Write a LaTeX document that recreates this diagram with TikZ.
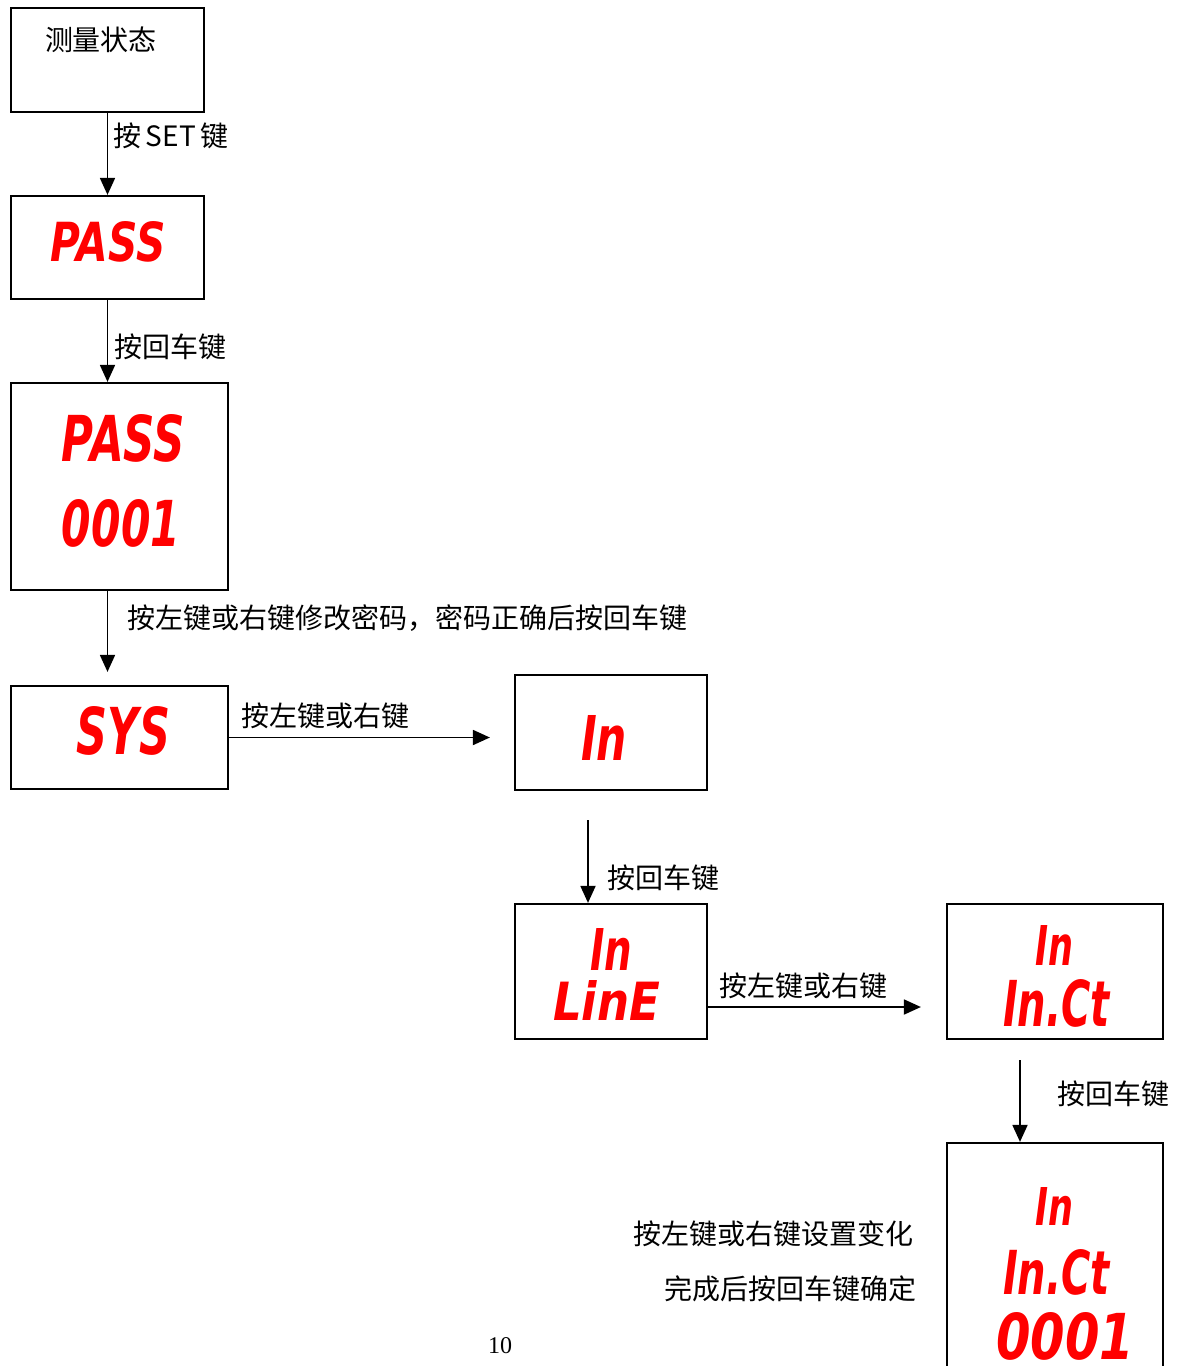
\documentclass[tikz,border=0pt]{standalone}
\usepackage{fontspec}
\usepackage{graphicx}
\newfontfamily\cjk{Noto Sans CJK SC}
\newfontfamily\segf{DejaVu Sans}
\newfontfamily\pgnum{Liberation Serif}
\usetikzlibrary{arrows.meta,calc}
\newcommand{\seg}[3]{\resizebox{#1pt}{#2pt}{\segf\bfseries\itshape #3}}
\begin{document}
\begin{tikzpicture}[x=1pt,y=-1pt,
  box/.style={draw,line width=2.2pt,inner sep=0pt,fill=white},
  lbl/.style={font=\cjk\fontsize{28pt}{30pt}\selectfont,inner sep=0pt},
  segtxt/.style={text=red,inner sep=0pt},
  flow/.style={draw,line width=1.8pt,-{Triangle[width=15pt,length=17pt]}}]
\useasboundingbox (0,0) rectangle (1183,1366);
\clip (0,0) rectangle (1183,1366);
% boxes
\node[box,minimum width=193pt,minimum height=104pt] (b1) at (107.5,60) {};
\node[box,minimum width=193pt,minimum height=103pt] (b2) at (107.5,247.5) {};
\node[box,minimum width=217pt,minimum height=207pt] (b3) at (119.5,486.5) {};
\node[box,minimum width=217pt,minimum height=103pt] (b4) at (119.5,737.5) {};
\node[box,minimum width=192pt,minimum height=115pt] (b5) at (611,732.5) {};
\node[box,minimum width=192pt,minimum height=135pt] (b6) at (611,971.5) {};
\node[box,minimum width=216pt,minimum height=135pt] (b7) at (1055,971.5) {};
\node[box,minimum width=216pt,minimum height=277pt] (b8) at (1055,1281.5) {};
% box texts
\node[lbl] (t1) at (101,40) {测量状态};
\node[segtxt] (s2) at (108,242) {\seg{115}{40}{PASS}};
\node[segtxt] (s3a) at (123.5,438.5) {\seg{123}{47}{PASS}};
\node[segtxt] (s3b) at (121,523.5) {\seg{118}{47}{0001}};
\node[segtxt] (s4) at (123.5,731) {\seg{93}{48}{SYS}};
\node[segtxt] (s5) at (604,737.5) {\seg{46}{45}{In}};
\node[segtxt] (s6a) at (611,949) {\seg{42}{42}{In}};
\node[segtxt] (s6b) at (606.5,1000) {\seg{107}{40}{LinE}};
\node[segtxt] (s7a) at (1054,945) {\seg{38}{40}{In}};
\node[segtxt] (s7b) at (1056.5,1003.5) {\seg{107}{47}{In.Ct}};
\node[segtxt] (s8a) at (1054,1206) {\seg{38}{38}{In}};
\node[segtxt] (s8b) at (1056.5,1272.5) {\seg{107}{45}{In.Ct}};
\node[segtxt] (s8c) at (1065,1336) {\seg{138}{47}{0001}};
% free arrow starts
\coordinate (c5) at (588,820);
\coordinate (c7) at (1020,1060);
% connectors
\draw[flow] (b1.south) -- (b2.north);
\draw[flow] (b2.south) -- (b2.south |- b3.north);
\draw[flow,shorten >=13pt] (b3.south -| b2.south) -- (b4.north -| b2.south);
\draw[flow,shorten >=24pt] (b4.east) -- (b4.east -| b5.west);
\draw[flow] (c5) -- (c5 |- b6.north);
\draw[flow,shorten >=25pt] ([yshift=-35.5pt]b6.east) -- ([yshift=-35.5pt]b6.east -| b7.west);
\draw[flow] (c7) -- (c7 |- b8.north);
% labels
\node[lbl,anchor=west] (l1) at (113,136) {按\,SET\,键};
\node[lbl,anchor=west] (l2) at (114,347) {按回车键};
\node[lbl,anchor=west] (l3) at (127,618) {按左键或右键修改密码，密码正确后按回车键};
\node[lbl,anchor=west] (l4) at (241,716) {按左键或右键};
\node[lbl,anchor=west] (l5) at (607,878) {按回车键};
\node[lbl,anchor=west] (l6) at (719,986) {按左键或右键};
\node[lbl,anchor=west] (l7) at (1057,1094) {按回车键};
\node[lbl,anchor=east] (l8) at (914,1234) {按左键或右键设置变化};
\node[lbl,anchor=east] (l9) at (917,1289) {完成后按回车键确定};
\node[inner sep=0pt,font=\pgnum\fontsize{24pt}{26pt}\selectfont] (pg) at (500,1346) {10};
\end{tikzpicture}
\end{document}
